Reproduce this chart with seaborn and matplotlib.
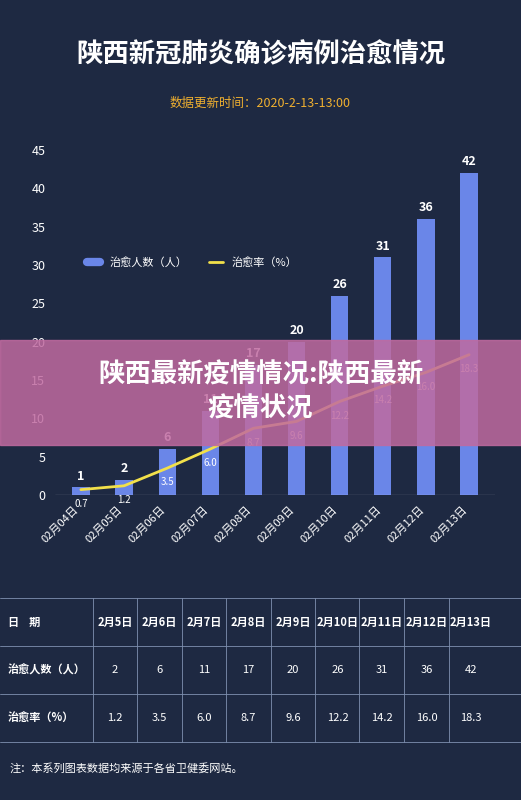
import matplotlib
matplotlib.use("Agg")
import matplotlib.pyplot as plt
import seaborn as sns
import pandas as pd

dates = ["02月04日","02月05日","02月06日","02月07日","02月08日","02月09日","02月10日","02月11日","02月12日","02月13日"]
cured = [1,2,6,11,17,20,26,31,36,42]
rate = [0.7,1.2,3.5,6.0,8.7,9.6,12.2,14.2,16.0,18.3]
table_dates = ["2月5日","2月6日","2月7日","2月8日","2月9日","2月10日","2月11日","2月12日","2月13日"]
table_cured = [2,6,11,17,20,26,31,36,42]
table_rate = [1.2,3.5,6.0,8.7,9.6,12.2,14.2,16.0,18.3]

sns.set_style("dark")
plt.rcParams['font.family'] = ['Noto Sans CJK SC', 'DejaVu Sans']
bg = "#1e2942"
fig = plt.figure(figsize=(5.21, 8), dpi=100, facecolor=bg)
W, H = 521, 800
def fx(x): return x / W
def fy(y): return 1 - y / H

fig.text(0.5, fy(55), "陕西新冠肺炎确诊病例治愈情况", color="white", fontsize=19, fontweight="bold", ha="center", va="center")
fig.text(0.5, fy(103), "数据更新时间：2020-2-13-13:00", color="#f0b030", fontsize=9, ha="center", va="center")

ax = fig.add_axes([fx(55), fy(495), fx(440), (495-150)/H])
ax.set_facecolor(bg)
df = pd.DataFrame({"d": dates, "c": cured})
sns.barplot(data=df, x="d", y="c", color="#6a86e8", saturation=1, width=0.4, linewidth=0, ax=ax)
ax.plot(range(len(dates)), rate, color="#f2e04a", lw=2)
for i, (c, r) in enumerate(zip(cured, rate)):
    ax.text(i, c + 0.6, str(c), color="white", fontsize=9, fontweight="bold", ha="center", va="bottom")
    ax.text(i, r - 1.2, f"{r:.1f}", color="white", fontsize=7, ha="center", va="top")
ax.set_ylim(0, 45)
ax.set_yticks(range(0, 46, 5))
ax.set_xlim(-0.6, 9.6)
ax.tick_params(colors="white", labelsize=9)
ax.set_xticks(range(len(dates)))
ax.set_xticklabels(dates, rotation=45, ha="right", fontsize=8, color="white")
ax.set_xlabel(""); ax.set_ylabel("")
ax.grid(False)
for s in ax.spines.values(): s.set_visible(False)
ax.axhline(0, color="white", lw=0.8)
ax.plot([], [], color="#6a86e8", lw=6, label="治愈人数（人）")
ax.plot([], [], color="#f2e04a", lw=2, label="治愈率（%）")
ax.legend(loc="upper left", bbox_to_anchor=(0.05, 0.72), ncol=2, frameon=False, labelcolor="white", fontsize=8, handlelength=1.2)

fig.patches.append(plt.Rectangle((0, fy(445)), 1, (445-340)/H, transform=fig.transFigure, color="#c06aa0", alpha=0.85))
fig.text(0.5, fy(392), "陕西最新疫情情况:陕西最新\n疫情状况", color="white", fontsize=19, fontweight="bold", ha="center", va="center", linespacing=1.3)

rows = [("日    期", table_dates), ("治愈人数（人）", table_cured), ("治愈率（%）", table_rate)]
ys = [622, 670, 718]
col0 = 8; xs = [115 + i*44.5 for i in range(9)]
for y, (lab, vals) in zip(ys, rows):
    fig.text(fx(col0), fy(y), lab, color="white", fontsize=8, fontweight="bold", va="center")
    for x, v in zip(xs, vals):
        t = f"{v:.1f}" if isinstance(v, float) else str(v)
        fig.text(fx(x), fy(y), t, color="white", fontsize=8, ha="center", va="center", fontweight="bold" if y == 622 else "normal")
for y in [598, 646, 694, 742]:
    fig.add_artist(plt.Line2D([0, 1], [fy(y)]*2, color="#8090b0", lw=0.6))
for x in [93] + [x + 22 for x in xs[:-1]]:
    fig.add_artist(plt.Line2D([fx(x)]*2, [fy(598), fy(742)], color="#8090b0", lw=0.6))
fig.text(fx(10), fy(768), "注：本系列图表数据均来源于各省卫健委网站。", color="white", fontsize=8, va="center")

fig.savefig("out.png", facecolor=bg)
